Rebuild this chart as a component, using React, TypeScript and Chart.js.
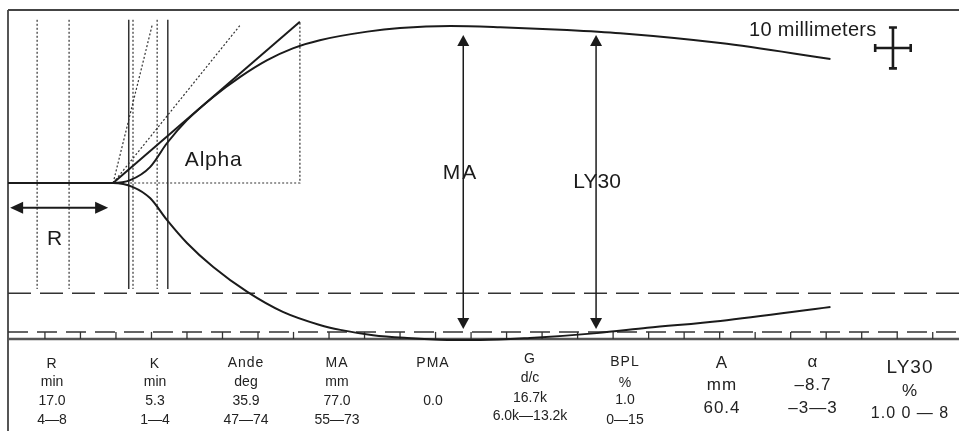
import { useEffect, useRef } from "react";
import { Chart, registerables } from "chart.js";

Chart.register(...registerables);

// ---- scale ranges (minutes / millimeters) ----
const X_MIN = -0.2;
const X_MAX = 133.7;
const Y_MIN = -38.24;
const Y_MAX = 42.4;
const TICK_STEP = 5;
const TICK_LAST = 130;

// ---- TEG trace (upper & lower branches) ----
const upperMinutes = [-0.2, 14.6, 17.0, 19.8, 22.2, 25.0, 28.7, 32.5, 36.3, 39.9, 43.7, 50.4, 55.0, 62.1, 69.1, 78.5, 86.0, 100.1, 115.6];
const upperMm = [0, 0, 0.7, 3.9, 9.8, 15.4, 21.1, 26.0, 30.1, 33.0, 35.0, 37.1, 38.0, 38.5, 38.2, 37.5, 36.7, 34.3, 30.4];
const lowerMinutes = [-0.2, 14.6, 17.4, 19.8, 22.2, 25.0, 28.7, 33.5, 38.5, 43.7, 46.6, 51.2, 56.0, 60.6, 66.3, 73.3, 82.7, 89.8, 100.1, 115.6];
const lowerMm = [0, 0, -1.0, -3.7, -9.1, -14.7, -20.6, -26.7, -31.6, -34.8, -36.0, -37.3, -38.0, -38.4, -38.5, -38.0, -36.8, -35.5, -33.8, -30.4];

// ---- alpha tangent ----
const alphaMinutes = [14.6, 40.9];
const alphaMm = [0, 39.5];

// ---- guide lines ----
const solidGuideMinutes = [16.8, 22.3];
const dottedGuideMinutes = [3.9, 8.4, 17.4, 20.8];
const guideTopMm = 40.0;
const guideBottomMm = -26.0;
const dottedRayEnds = [[20.1, 38.7], [32.5, 38.7]];
const dashedLevelsMm = [-27.0, -36.5];

// ---- arrows & labels ----
const rArrowMinutes = [0.1, 13.9];
const rArrowMm = -6.1;
const maArrowMinute = 63.9;
const ly30ArrowMinute = 82.6;
const arrowTopMm = 36.3;
const arrowBottomMm = -35.8;
const labelTexts = ["R", "Alpha", "MA", "LY30", "10 millimeters"];
const labelMinutes = [6.4, 24.7, 63.5, 79.4, 122.1];
const labelMm = [-15.2, 4.2, 1.0, -1.2, 36.0];
const crossCenter = [124.4, 33.1];
const crossHalfMinutes = 2.5;
const crossHalfMm = 5;

// ---- results table ----
const tableNames = ["R", "K", "Ande", "MA", "PMA", "G", "BPL", "A", "α", "LY30"];
const tableUnits = ["min", "min", "deg", "mm", "", "d/c", "%", "mm", "", "%"];
const tableResults = ["17.0", "5.3", "35.9", "77.0", "0.0", "16.7k", "1.0", "60.4", "–8.7", "1.0 0 — 8"];
const tableRanges = ["4—8", "1—4", "47—74", "55—73", "", "6.0k—13.2k", "0—15", "", "–3—3", ""];

// layout of the table (pixels), kept apart from the data
const colCenters = [52, 155, 246, 337, 433, 530, 625, 722, 813, 910];
const colBaselines = [
  [368, 386, 405, 424],
  [368, 386, 405, 424],
  [367, 386, 405, 424],
  [367, 386, 405, 424],
  [367, 386, 405, 424],
  [363, 382, 402, 420],
  [366, 387, 404, 424],
  [368, 390, 413, 430],
  [367, 390, 390, 413],
  [373, 396, 418, 430],
];
const colFont = [14, 14, 14, 14, 14, 14, 14, 17, 17, 17];

const INK = "#1b1b1b";
const FONT = '"Liberation Sans", Arial, Helvetica, sans-serif';

function arrowHead(ctx: CanvasRenderingContext2D, x: number, y: number, dx: number, dy: number, len: number, half: number) {
  const bx = x - dx * len;
  const by = y - dy * len;
  const px = -dy;
  const py = dx;
  ctx.beginPath();
  ctx.moveTo(x, y);
  ctx.lineTo(bx + px * half, by + py * half);
  ctx.lineTo(bx - px * half, by - py * half);
  ctx.closePath();
  ctx.fill();
}

const tegPlugin = {
  id: "tegDecor",
  beforeDatasetsDraw(chart: any) {
    const ctx: CanvasRenderingContext2D = chart.ctx;
    const xs = chart.scales.x;
    const ys = chart.scales.y;
    const X = (v: number) => xs.getPixelForValue(v);
    const Y = (v: number) => ys.getPixelForValue(v);
    const area = chart.chartArea;
    ctx.save();

    // frame
    ctx.strokeStyle = "#444";
    ctx.lineWidth = 1.8;
    ctx.beginPath();
    ctx.moveTo(area.left, area.top);
    ctx.lineTo(area.right, area.top);
    ctx.moveTo(area.left, area.top);
    ctx.lineTo(area.left, chart.height);
    ctx.stroke();

    // bottom solid line
    ctx.strokeStyle = "#555";
    ctx.lineWidth = 2.4;
    ctx.beginPath();
    ctx.moveTo(area.left, Y(Y_MIN));
    ctx.lineTo(area.right, Y(Y_MIN));
    ctx.stroke();

    // dashed levels
    ctx.strokeStyle = "#333";
    ctx.lineWidth = 1.5;
    dashedLevelsMm.forEach((lv, i) => {
      ctx.setLineDash(i === 0 ? [23, 9] : [20, 9]);
      ctx.beginPath();
      ctx.moveTo(area.left, Y(lv));
      ctx.lineTo(area.right, Y(lv));
      ctx.stroke();
    });
    ctx.setLineDash([]);

    // minute ticks
    ctx.lineWidth = 1.3;
    for (let m = TICK_STEP; m <= TICK_LAST; m += TICK_STEP) {
      ctx.beginPath();
      ctx.moveTo(X(m), Y(dashedLevelsMm[1]));
      ctx.lineTo(X(m), Y(Y_MIN));
      ctx.stroke();
    }

    // vertical guides
    ctx.strokeStyle = "#333";
    ctx.lineWidth = 1.5;
    solidGuideMinutes.forEach((m) => {
      ctx.beginPath();
      ctx.moveTo(X(m), Y(guideTopMm));
      ctx.lineTo(X(m), Y(guideBottomMm));
      ctx.stroke();
    });
    ctx.lineWidth = 1.2;
    ctx.setLineDash([2, 2]);
    dottedGuideMinutes.forEach((m) => {
      ctx.beginPath();
      ctx.moveTo(X(m), Y(guideTopMm));
      ctx.lineTo(X(m), Y(guideBottomMm));
      ctx.stroke();
    });

    // dotted alpha box
    ctx.beginPath();
    ctx.moveTo(X(17.0), Y(0));
    ctx.lineTo(X(alphaMinutes[1]), Y(0));
    ctx.lineTo(X(alphaMinutes[1]), Y(alphaMm[1]));
    ctx.stroke();

    // dotted rays
    dottedRayEnds.forEach(([m, v]) => {
      ctx.beginPath();
      ctx.moveTo(X(alphaMinutes[0]), Y(0));
      ctx.lineTo(X(m), Y(v));
      ctx.stroke();
    });
    ctx.setLineDash([]);
    ctx.restore();
  },
  afterDatasetsDraw(chart: any) {
    const ctx: CanvasRenderingContext2D = chart.ctx;
    const xs = chart.scales.x;
    const ys = chart.scales.y;
    const X = (v: number) => xs.getPixelForValue(v);
    const Y = (v: number) => ys.getPixelForValue(v);
    ctx.save();
    ctx.fillStyle = INK;
    ctx.strokeStyle = INK;

    // R arrow
    ctx.lineWidth = 2;
    const ry = Y(rArrowMm);
    const rx0 = X(rArrowMinutes[0]);
    const rx1 = X(rArrowMinutes[1]);
    ctx.beginPath();
    ctx.moveTo(rx0 + 8, ry);
    ctx.lineTo(rx1 - 8, ry);
    ctx.stroke();
    arrowHead(ctx, rx0, ry, -1, 0, 13, 6);
    arrowHead(ctx, rx1, ry, 1, 0, 13, 6);

    // MA / LY30 arrows
    ctx.lineWidth = 1.5;
    [maArrowMinute, ly30ArrowMinute].forEach((m) => {
      const x = X(m);
      const yt = Y(arrowTopMm);
      const yb = Y(arrowBottomMm);
      ctx.beginPath();
      ctx.moveTo(x, yt + 6);
      ctx.lineTo(x, yb - 6);
      ctx.stroke();
      arrowHead(ctx, x, yt, 0, -1, 11, 6);
      arrowHead(ctx, x, yb, 0, 1, 11, 6);
    });

    // labels
    const aligns: CanvasTextAlign[] = ["center", "left", "center", "left", "right"];
    const sizes = [21, 21, 21, 21, 20];
    const spacing = ["0.5px", "0.8px", "2px", "0px", "0.3px"];
    labelTexts.forEach((t, i) => {
      ctx.font = `${sizes[i]}px ${FONT}`;
      ctx.textAlign = aligns[i];
      ctx.textBaseline = "alphabetic";
      (ctx as any).letterSpacing = spacing[i];
      ctx.fillText(t, X(labelMinutes[i]), Y(labelMm[i]));
    });
    (ctx as any).letterSpacing = "0px";

    // 10 mm cross
    ctx.lineWidth = 2.6;
    const cx = X(crossCenter[0]);
    const cy = Y(crossCenter[1]);
    const hx0 = X(crossCenter[0] - crossHalfMinutes);
    const hx1 = X(crossCenter[0] + crossHalfMinutes);
    const vy0 = Y(crossCenter[1] + crossHalfMm);
    const vy1 = Y(crossCenter[1] - crossHalfMm);
    ctx.beginPath();
    ctx.moveTo(hx0, cy); ctx.lineTo(hx1, cy);
    ctx.moveTo(cx, vy0); ctx.lineTo(cx, vy1);
    ctx.moveTo(hx0, cy - 4); ctx.lineTo(hx0, cy + 4);
    ctx.moveTo(hx1, cy - 4); ctx.lineTo(hx1, cy + 4);
    ctx.moveTo(cx - 4, vy0); ctx.lineTo(cx + 4, vy0);
    ctx.moveTo(cx - 4, vy1); ctx.lineTo(cx + 4, vy1);
    ctx.stroke();

    // results table
    ctx.fillStyle = "#222";
    ctx.textAlign = "center";
    ctx.textBaseline = "alphabetic";
    const rowsData = [tableNames, tableUnits, tableResults, tableRanges];
    tableNames.forEach((_, c) => {
      rowsData.forEach((row, r) => {
        const txt = row[c];
        if (!txt) return;
        let size = colFont[c];
        if (c === 9 && r === 0) size = 19;
        if (c === 9 && r === 2) size = 16;
        ctx.font = `${size}px ${FONT}`;
        (ctx as any).letterSpacing = r === 0 ? "1px" : c >= 7 ? "1px" : "0px";
        ctx.fillText(txt, colCenters[c], colBaselines[c][r]);
      });
    });
    (ctx as any).letterSpacing = "0px";
    ctx.restore();
  },
};

export default function App() {
  const ref = useRef<HTMLCanvasElement | null>(null);
  useEffect(() => {
    document.body.style.margin = "0";
    const canvas = ref.current;
    if (!canvas) return;
    const upper = upperMinutes.map((m, i) => ({ x: m, y: upperMm[i] }));
    const lower = lowerMinutes.map((m, i) => ({ x: m, y: lowerMm[i] }));
    const alpha = alphaMinutes.map((m, i) => ({ x: m, y: alphaMm[i] }));
    const chart = new Chart(canvas, {
      type: "line",
      data: {
        datasets: [
          { data: upper, borderColor: INK, borderWidth: 2, pointRadius: 0, cubicInterpolationMode: "monotone", clip: false } as any,
          { data: lower, borderColor: INK, borderWidth: 2, pointRadius: 0, cubicInterpolationMode: "monotone", clip: false } as any,
          { data: alpha, borderColor: INK, borderWidth: 2, pointRadius: 0, tension: 0, clip: false } as any,
        ],
      },
      options: {
        responsive: false,
        animation: false,
        events: [],
        layout: { padding: { left: 8, top: 10, right: 0, bottom: 92 } },
        scales: {
          x: { type: "linear", min: X_MIN, max: X_MAX, display: false },
          y: { type: "linear", min: Y_MIN, max: Y_MAX, display: false },
        },
        plugins: { legend: { display: false }, tooltip: { enabled: false } },
      },
      plugins: [tegPlugin],
    });
    return () => chart.destroy();
  }, []);
  return <canvas ref={ref} width={959} height={431} style={{ display: "block" }} />;
}
